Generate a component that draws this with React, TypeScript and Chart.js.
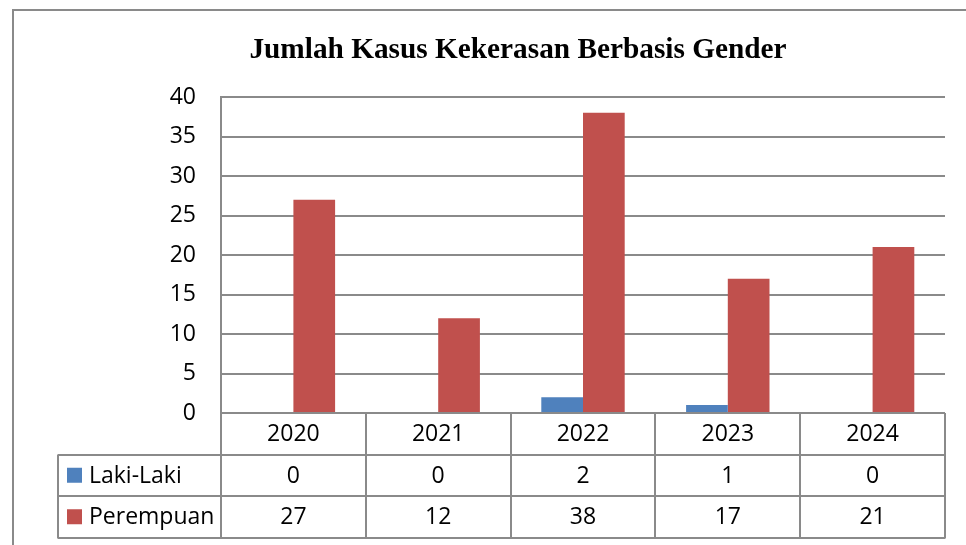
import React, { useEffect, useRef } from "react";
import { Chart, registerables } from "chart.js";

Chart.register(...registerables);

const chartTitle = "Jumlah Kasus Kekerasan Berbasis Gender";
const years = ["2020", "2021", "2022", "2023", "2024"];
const lakiLaki = [0, 0, 2, 1, 0];
const perempuan = [27, 12, 38, 17, 21];
const seriesNames = ["Laki-Laki", "Perempuan"];
const seriesColors = ["#4F81BD", "#C0504D"];
const yMin = 0;
const yMax = 40;
const yStep = 5;

const W = 966;
const H = 545;
const GRID = "#8a8a8a";
const FONT = "'Open Sans', 'Noto Sans', sans-serif";
const FSIZE = 23;

const tablePlugin = {
  id: "excelTable",
  beforeDraw(chart: any) {
    const ctx = chart.ctx;
    ctx.save();
    ctx.fillStyle = "#ffffff";
    ctx.fillRect(0, 0, W, H);
    ctx.strokeStyle = GRID;
    ctx.lineWidth = 2;
    ctx.beginPath();
    ctx.moveTo(13, H);
    ctx.lineTo(13, 10);
    ctx.lineTo(W, 10);
    ctx.stroke();
    ctx.fillStyle = "#000";
    ctx.font = "bold 29.3px 'Liberation Serif', 'Times New Roman', serif";
    ctx.textAlign = "center";
    ctx.textBaseline = "middle";
    ctx.fillText(chartTitle, 518, 50);
    ctx.restore();
  },
  afterDraw(chart: any) {
    const ctx = chart.ctx;
    const ca = chart.chartArea;
    const xs = chart.scales.x;
    const n = years.length;
    const colW = (ca.right - ca.left) / n;
    const rowH = 41.5;
    const top = ca.bottom;
    const legendLeft = 58;
    ctx.save();
    ctx.strokeStyle = GRID;
    ctx.lineWidth = 2;
    ctx.beginPath();
    for (let k = 1; k <= 3; k++) {
      const y = Math.round(top + rowH * k);
      ctx.moveTo(legendLeft, y);
      ctx.lineTo(ca.right, y);
    }
    for (let i = 0; i <= n; i++) {
      const x = Math.round(ca.left + colW * i);
      ctx.moveTo(x, top);
      ctx.lineTo(x, top + rowH * 3 + 1);
    }
    ctx.moveTo(legendLeft, top + rowH);
    ctx.lineTo(legendLeft, top + rowH * 3 + 1);
    ctx.stroke();

    ctx.fillStyle = "#000";
    ctx.font = `${FSIZE}px ${FONT}`;
    ctx.textAlign = "center";
    ctx.textBaseline = "middle";
    const rows = [lakiLaki, perempuan];
    years.forEach((yr, i) => {
      const cx = xs.getPixelForValue(i);
      ctx.fillText(yr, cx, top + rowH * 0.5 + 1);
      rows.forEach((r, j) => {
        ctx.fillText(String(r[i]), cx, top + rowH * (1.5 + j) + 1);
      });
    });
    ctx.textAlign = "left";
    seriesNames.forEach((name, j) => {
      const cy = top + rowH * (1.5 + j);
      ctx.fillStyle = seriesColors[j];
      ctx.fillRect(67, cy - 7.5, 15, 15);
      ctx.fillStyle = "#000";
      ctx.fillText(name, 89, cy + 1);
    });
    ctx.restore();
  },
};

export default function App() {
  const ref = useRef<HTMLCanvasElement | null>(null);
  useEffect(() => {
    document.body.style.margin = "0";
    const canvas = ref.current;
    if (!canvas) return;
    const chart = new Chart(canvas, {
      type: "bar",
      data: {
        labels: years,
        datasets: [
          {
            label: seriesNames[0],
            data: lakiLaki,
            backgroundColor: seriesColors[0],
            categoryPercentage: 0.576,
            barPercentage: 1,
          },
          {
            label: seriesNames[1],
            data: perempuan,
            backgroundColor: seriesColors[1],
            categoryPercentage: 0.576,
            barPercentage: 1,
          },
        ],
      },
      options: {
        animation: false,
        responsive: false,
        maintainAspectRatio: false,
        devicePixelRatio: 1,
        layout: { padding: { left: 0, top: 97, right: 21, bottom: 132 } },
        plugins: {
          legend: { display: false },
          title: { display: false },
          tooltip: { enabled: false },
        },
        scales: {
          x: { display: false },
          y: {
            min: yMin,
            max: yMax,
            ticks: {
              stepSize: yStep,
              padding: 25,
              color: "#000",
              font: { family: FONT, size: FSIZE },
            },
            grid: { color: GRID, lineWidth: 2, drawTicks: false },
            border: { display: true, color: GRID, width: 2 },
            afterFit(s: any) {
              s.width = 221;
              s.paddingTop = 0;
              s.paddingBottom = 0;
            },
          },
        },
      },
      plugins: [tablePlugin],
    } as any);
    return () => chart.destroy();
  }, []);
  return (
    <div style={{ position: "absolute", left: 0, top: 0, width: W, height: H }}>
      <canvas ref={ref} width={W} height={H} style={{ display: "block" }} />
    </div>
  );
}
